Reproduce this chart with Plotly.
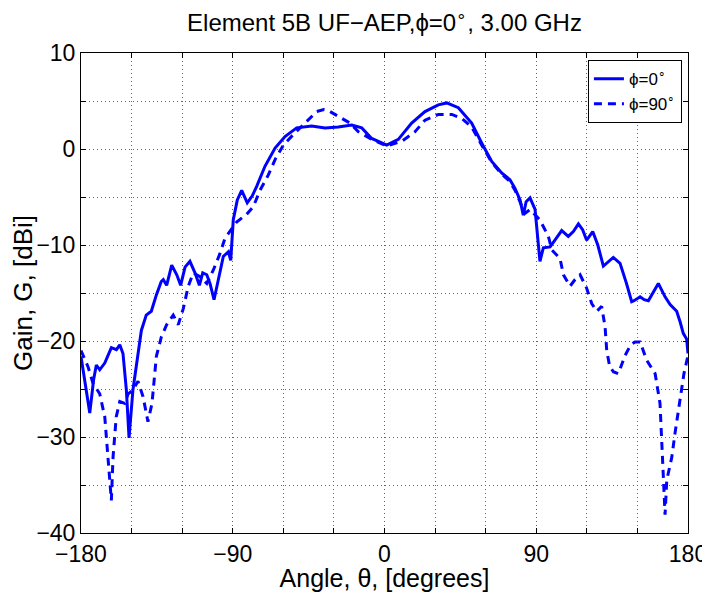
import plotly.graph_objects as go

# phi = 0 cut (solid)
theta_0 = [-180, -177.5, -174.8, -172.5, -170.9, -168.9, -165.9, -162, -159, -157, -155.1,
           -153.1, -151.5, -149.2, -146.6, -144.2, -141.3, -138.3, -135.3, -132.4, -131.2,
           -129.2, -126.2, -123.2, -120.9, -118.3, -115.4, -112.4, -109.8, -107.8, -105.4,
           -103.5, -101.1, -98.6, -95.6, -92.6, -91.2, -89.7, -87.3, -84.7, -81.4, -78.5,
           -75.8, -70.9, -64.9, -59.0, -52.1, -43.2, -35.3, -27.4, -19.4, -13.5, -7.6, 1.3,
           8.2, 16.1, 24.0, 31.9, 36.9, 43.8, 51.7, 57.7, 63.6, 69.5, 74.4, 77.4, 80.4, 82.3,
           84, 86.3, 89.3, 91, 92.2, 94.2, 98.2, 101.5, 105.1, 109, 112, 115, 117.5, 119.9,
           123.5, 126.5, 129.8, 135.7, 139.7, 143.5, 146.6, 148, 151.6, 154, 156.5, 162.4,
           166.4, 169.4, 173.3, 175.3, 177.2, 179.2, 180]
gain_0 = [-21.6, -24.5, -27.5, -24.0, -22.5, -23.0, -22.3, -20.7, -20.9, -20.4, -21.3,
          -25.1, -30.1, -25.1, -21.6, -18.9, -17.3, -16.9, -15.2, -13.8, -13.6,
          -14.2, -12.1, -13.1, -14.2, -12.3, -11.7, -12.9, -14.2, -12.9, -13.1,
          -14.0, -15.7, -13.6, -11.2, -10.7, -11.6, -7.4, -5.3, -4.3, -5.6, -4.9,
          -3.9, -1.8, 0.1, 1.3, 2.2, 2.4, 2.2, 2.3, 2.5, 2.2, 1.1, 0.4,
          1.0, 2.7, 3.9, 4.6, 4.8, 4.3, 2.7, 0.6, -1.3, -2.5, -3.2, -4.1, -5.3, -6.9,
          -5.5, -5.1, -6.3, -9.5, -11.7, -10.3, -10.2, -9.4, -8.5, -9.1, -8.6, -7.8, -8.4, -9.5,
          -8.6, -10.0, -12.2, -11.3, -11.9, -14.0, -15.9, -15.8, -15.4, -15.7, -15.8, -14.0,
          -15.4, -16.2, -16.9, -18.0, -19.2, -19.8, -21.3]

# phi = 90 cut (dashed)
theta_90 = [-180, -178.8, -175.8, -172.9, -168.9, -165.9, -164.0, -162.0, -161.0, -159.1,
            -157.0, -154.1, -152, -149.2, -146.2, -143.2, -140.3, -137.9, -135.3, -132.4,
            -129.2, -125.3, -122.3, -119.3, -116.4, -113.4, -109.4, -105.4, -101.5, -97.6,
            -94.6, -91.6, -87.7, -81.7, -77.8, -73.8, -68.9, -64.9, -60.0, -54.1, -47.1,
            -40.2, -36, -33.3, -27.4, -20.5, -15.5, -8.6, 1.3, 10.2, 18.1, 24.0, 31.9, 39.9,
            45.8, 51.7, 57.7, 63.6, 69.5, 74.4, 77.4, 80.4, 83.3, 86.3, 89, 92.2, 97.2, 99.2,
            104.1, 106.1, 110.0, 113, 116.0, 119.9, 122.9, 125.9, 128.8, 130.8, 131.8, 133.5,
            135.7, 138.7, 142.7, 146, 148.6, 151.6, 155.5, 160.5, 163.4, 164.4, 165.4, 166.4,
            167.4, 170.4, 172.3, 175.3, 177.6, 180]
gain_90 = [-21.0, -21.5, -22.7, -24.4, -25.5, -27.9, -32.1, -36.6, -32.1, -27.9,
           -26.3, -26.5, -25.5, -25.1, -24.2, -25.8, -28.4, -26.5, -21.6, -19.6,
           -18.3, -17.3, -18.3, -16.6, -14.3, -12.9, -13.3, -14.0, -12.6, -10.9,
           -9.3, -8.5, -7.6, -6.8, -6.0, -4.3, -2.7, -1.1, 0.4, 1.5, 2.7,
           3.9, 4.1, 4.0, 3.4, 2.7, 1.8, 1.1, 0.3, 0.8, 1.8, 3.0, 3.6, 3.6,
           3.2, 2.3, 0.4, -1.4, -2.6, -3.4, -4.3, -5.6, -6.7, -6.3, -6.8, -7.4, -9.1, -10.5,
           -11.4, -13.1, -14.3, -13.6, -13.1, -14.5, -16.1, -16.9, -16.4, -18.5, -21.0, -22.6,
           -23.2, -23.4, -21.5, -20.4, -20.1, -20.1, -22.0, -23.4, -26.5, -30.3, -33.1, -38.1,
           -34.5, -32.1, -29.6, -26.2, -23.4, -21.5]

x_ticks = list(range(-180, 181, 30))
x_labels = [str(v).replace("-", "\u2212") if v % 90 == 0 else "" for v in x_ticks]
y_ticks = list(range(-40, 11, 5))
y_labels = [str(v).replace("-", "\u2212") if v % 10 == 0 else "" for v in y_ticks]

fig = go.Figure()
fig.add_trace(go.Scatter(x=theta_0, y=gain_0, mode="lines", name="ϕ=0<sup>∘</sup>",
                         line=dict(color="#0000ff", width=3)))
fig.add_trace(go.Scatter(x=theta_90, y=gain_90, mode="lines", name="ϕ=90<sup>∘</sup>",
                         line=dict(color="#0000ff", width=3, dash="8px,6px")))

axis_common = dict(showline=True, linecolor="black", linewidth=1, mirror="ticks",
                   ticks="inside", ticklen=5, tickcolor="black", showgrid=True,
                   gridcolor="#666", griddash="1px,3px", gridwidth=1, zeroline=False,
                   automargin=False, ticklabeloverflow="allow",
                   tickfont=dict(size=23, color="black"))

fig.update_xaxes(range=[-180, 180], tickmode="array", tickvals=x_ticks, ticktext=x_labels,
                 title=dict(text="Angle, θ, [degrees]", font=dict(size=25, color="black"),
                            standoff=5), **axis_common)
fig.update_yaxes(range=[-40, 10], tickmode="array", tickvals=y_ticks, ticktext=y_labels,
                 title=dict(text="Gain, G, [dBi]", font=dict(size=26, color="black"),
                            standoff=6), **axis_common)

# page body adds an 8px offset, so the figure is drawn 8px smaller
fig.update_layout(
    width=702, height=584,
    margin=dict(l=73, r=22, t=45, b=59),
    paper_bgcolor="white", plot_bgcolor="white",
    font=dict(family="Liberation Sans, Arial, sans-serif", color="black"),
    title=dict(text="Element 5B UF\u2212AEP,ϕ=0<sup>∘</sup>, 3.00 GHz", x=0.5, xanchor="center",
               xref="paper", y=0.975, yanchor="middle", font=dict(size=24, color="black")),
    legend=dict(x=0.99, xanchor="right", y=0.985, yanchor="top", bgcolor="white",
                bordercolor="black", borderwidth=1, itemwidth=30,
                font=dict(size=17, color="black")),
    showlegend=True,
)

fig.write_html("out.html")
